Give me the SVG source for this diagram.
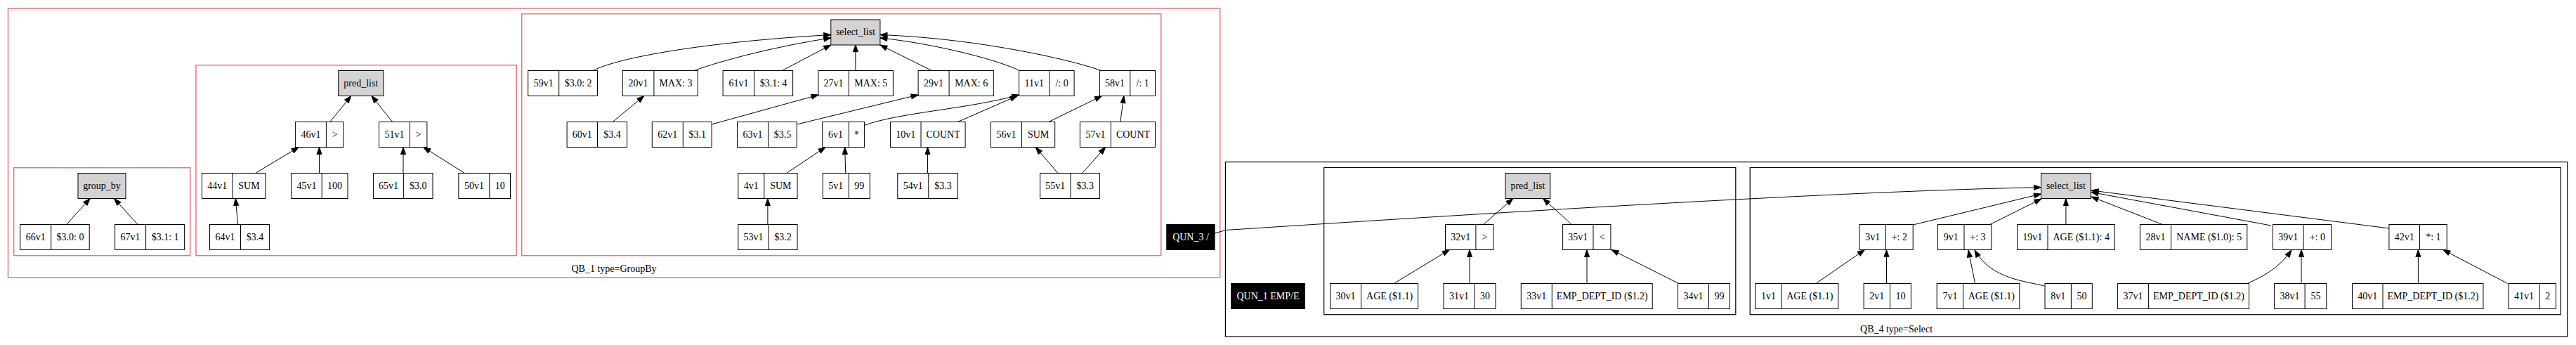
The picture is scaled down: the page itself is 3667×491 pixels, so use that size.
<svg xmlns="http://www.w3.org/2000/svg" width="3667" height="491" viewBox="0 0 3667 491">
<style>
text{font-family:"Liberation Serif","Times New Roman",serif;font-size:14px;text-anchor:middle;fill:#000}
.cr{fill:none;stroke:#e2787c;stroke-width:1.5}
.ck{fill:none;stroke:#000;stroke-width:1.2}
.n rect{fill:#fff;stroke:#000;stroke-width:1}
.n line{stroke:#000;stroke-width:1}
.g rect{fill:#d3d3d3;stroke:#000;stroke-width:1}
.q rect{fill:#000;stroke:#000}
.q text{fill:#fff}
.e path{fill:none;stroke:#000;stroke-width:1;marker-end:url(#ah)}
</style>
<defs>
<marker id="ah" markerUnits="userSpaceOnUse" markerWidth="10" markerHeight="7" refX="10" refY="3.5" orient="auto" overflow="visible">
<path d="M0,0 L10,3.5 L0,7 Z" fill="#000" stroke="#000" stroke-width="1"/>
</marker>
</defs>
<rect width="3667" height="491" fill="#fff"/>

<g id="clusters">
<rect class="cr" x="11.5" y="12" width="1725.2" height="383"/>
<text x="874" y="387">QB_1 type=GroupBy</text>
<rect class="cr" x="19.6" y="238.7" width="251.1" height="125"/>
<rect class="cr" x="278.9" y="92.7" width="456.3" height="271"/>
<rect class="cr" x="742.7" y="19.7" width="910.1" height="344"/>
<rect class="ck" x="1744.4" y="230.5" width="1910.3" height="248.5"/>
<text x="2699.6" y="472.5">QB_4 type=Select</text>
<rect class="ck" x="1884.7" y="238.5" width="586.1" height="209.2"/>
<rect class="ck" x="2491.2" y="238.5" width="1154" height="209.2"/>
</g>

<g id="edges" class="e">
<path d="M94.7,319.5 L128.2,282.5"/>
<path d="M196.1,319.5 L162.6,282.5"/>
<path d="M469.7,173.5 L499.8,136.5"/>
<path d="M558.7,173.5 L529,136.5"/>
<path d="M363.5,246.5 L425.2,209.5"/>
<path d="M454.5,246.5 L454.5,209.5"/>
<path d="M574,246.5 L574,209.5"/>
<path d="M661.5,246.5 L602.7,209.5"/>
<path d="M338.6,319.5 L335.3,282.5"/>
<path d="M844.1,100.5 C880,82 1000,60 1182.8,49.5"/>
<path d="M988.3,100.5 C1030,85 1110,65 1182.8,54"/>
<path d="M1113.3,100.5 L1182.8,64"/>
<path d="M1217.9,100.5 L1217.9,63.7"/>
<path d="M1326.3,100.5 L1252.9,64"/>
<path d="M1451.3,100.5 C1420,85 1330,62 1252.9,54"/>
<path d="M1567.3,100.5 C1535,88 1400,55 1252.9,49.5"/>
<path d="M872.2,173.5 L916.8,136.5"/>
<path d="M1013.1,177 L1165,135"/>
<path d="M1134.3,177 L1307.1,135"/>
<path d="M1230.6,178.3 C1280,160 1380,155 1450.6,135"/>
<path d="M1363.3,173.5 L1448,136.5"/>
<path d="M1492.7,173.5 L1568.6,136.5"/>
<path d="M1594.8,173.5 L1599.9,136.5"/>
<path d="M1119.6,246.5 L1175.1,209.5"/>
<path d="M1203.8,246.5 L1202.6,209.5"/>
<path d="M1320.5,246.5 L1320.5,209.5"/>
<path d="M1506.1,246.5 L1474.2,209.5"/>
<path d="M1540.6,246.5 L1573.7,209.5"/>
<path d="M1092.9,319.5 L1092.9,282.5"/>
<path d="M2111.7,319.5 L2153.8,282.5"/>
<path d="M2237.4,319.5 L2196.6,282.5"/>
<path d="M1984.2,403.5 L2063.3,355.5"/>
<path d="M2092,403.5 L2092,355.5"/>
<path d="M2259,403.5 L2259,355.5"/>
<path d="M2389.8,403.5 L2294.1,355.5"/>
<path d="M1729,332 L1745,327.5 C2000,311 2600,272 2905.5,266.7"/>
<path d="M2723.2,320 L2905.5,276"/>
<path d="M2832.7,319.5 L2906,283"/>
<path d="M2940.9,319.5 L2940.9,282.5"/>
<path d="M3078.4,319.5 L2977,280"/>
<path d="M3233,321 L2977,273.5"/>
<path d="M3401,325 L2977,271"/>
<path d="M2584.9,403.5 L2654.4,355.5"/>
<path d="M2685.5,403.5 L2685.5,355.5"/>
<path d="M2811.6,403.5 L2802,356"/>
<path d="M2910,407 C2885,400 2835,398 2811,356"/>
<path d="M3200,403 C3225,392 3245,380 3262,356"/>
<path d="M3276,403.5 L3276,355.5"/>
<path d="M3442.4,403.5 L3442.4,355.5"/>
<path d="M3569.6,403.5 L3477.8,355.5"/>
</g>

<!-- QB_1 group_by -->
<g id="group_by_1" class="g"><rect x="111" y="246.5" width="68" height="36"/><text x="145" y="268.7">group_by</text></g>
<g id="n66v1" class="n"><rect x="28.7" y="319.5" width="98.5" height="36"/><line x1="72.7" y1="319.5" x2="72.7" y2="355.5"/><text x="50.7" y="341.7">66v1</text><text x="100" y="341.7">$3.0: 0</text></g>
<g id="n67v1" class="n"><rect x="163.6" y="319.5" width="99" height="36"/><line x1="207.6" y1="319.5" x2="207.6" y2="355.5"/><text x="185.6" y="341.7">67v1</text><text x="235.1" y="341.7">$3.1: 1</text></g>

<!-- QB_1 pred_list -->
<g id="pred_list_1" class="g"><rect x="481.7" y="100.5" width="64.1" height="36"/><text x="513.8" y="122.7">pred_list</text></g>
<g id="n46v1" class="n"><rect x="420.4" y="173.5" width="68.4" height="36"/><line x1="464.4" y1="173.5" x2="464.4" y2="209.5"/><text x="442.4" y="195.7">46v1</text><text x="476.6" y="195.7">&gt;</text></g>
<g id="n51v1" class="n"><rect x="539.5" y="173.5" width="68.4" height="36"/><line x1="583.5" y1="173.5" x2="583.5" y2="209.5"/><text x="561.5" y="195.7">51v1</text><text x="595.7" y="195.7">&gt;</text></g>
<g id="n44v1" class="n"><rect x="287.5" y="246.5" width="90.4" height="36"/><line x1="331" y1="246.5" x2="331" y2="282.5"/><text x="309.3" y="268.7">44v1</text><text x="354.5" y="268.7">SUM</text></g>
<g id="n45v1" class="n"><rect x="414.7" y="246.5" width="80.3" height="36"/><line x1="458.2" y1="246.5" x2="458.2" y2="282.5"/><text x="436.5" y="268.7">45v1</text><text x="476.6" y="268.7">100</text></g>
<g id="n65v1" class="n"><rect x="531.4" y="246.5" width="84.6" height="36"/><line x1="574.4" y1="246.5" x2="574.4" y2="282.5"/><text x="552.9" y="268.7">65v1</text><text x="595.2" y="268.7">$3.0</text></g>
<g id="n50v1" class="n"><rect x="652.9" y="246.5" width="73.6" height="36"/><line x1="696.9" y1="246.5" x2="696.9" y2="282.5"/><text x="674.9" y="268.7">50v1</text><text x="711.7" y="268.7">10</text></g>
<g id="n64v1" class="n"><rect x="298.5" y="319.5" width="85.1" height="36"/><line x1="342.5" y1="319.5" x2="342.5" y2="355.5"/><text x="320.5" y="341.7">64v1</text><text x="363" y="341.7">$3.4</text></g>

<!-- QB_1 select_list -->
<g id="select_list_1" class="g"><rect x="1182.8" y="28" width="70.1" height="36"/><text x="1217.9" y="50.2">select_list</text></g>
<g id="n59v1" class="n"><rect x="751.7" y="100.5" width="98.8" height="36"/><line x1="795.7" y1="100.5" x2="795.7" y2="136.5"/><text x="773.7" y="122.7">59v1</text><text x="823.1" y="122.7">$3.0: 2</text></g>
<g id="n20v1" class="n"><rect x="886.2" y="100.5" width="107.2" height="36"/><line x1="930.9" y1="100.5" x2="930.9" y2="136.5"/><text x="908.5" y="122.7">20v1</text><text x="962.1" y="122.7">MAX: 3</text></g>
<g id="n61v1" class="n"><rect x="1029.1" y="100.5" width="99.5" height="36"/><line x1="1073.7" y1="100.5" x2="1073.7" y2="136.5"/><text x="1051.4" y="122.7">61v1</text><text x="1101.1" y="122.7">$3.1: 4</text></g>
<g id="n27v1" class="n"><rect x="1164.9" y="100.5" width="106.5" height="36"/><line x1="1208.3" y1="100.5" x2="1208.3" y2="136.5"/><text x="1186.6" y="122.7">27v1</text><text x="1239.8" y="122.7">MAX: 5</text></g>
<g id="n29v1" class="n"><rect x="1307.1" y="100.5" width="107.2" height="36"/><line x1="1351.1" y1="100.5" x2="1351.1" y2="136.5"/><text x="1329.1" y="122.7">29v1</text><text x="1382.7" y="122.7">MAX: 6</text></g>
<g id="n11v1" class="n"><rect x="1450.6" y="100.5" width="78.5" height="36"/><line x1="1494" y1="100.5" x2="1494" y2="136.5"/><text x="1472.3" y="122.7">11v1</text><text x="1511.6" y="122.7">/: 0</text></g>
<g id="n58v1" class="n"><rect x="1565.4" y="100.5" width="79.1" height="36"/><line x1="1608.8" y1="100.5" x2="1608.8" y2="136.5"/><text x="1587.1" y="122.7">58v1</text><text x="1626.7" y="122.7">/: 1</text></g>
<g id="n60v1" class="n"><rect x="807.1" y="173.5" width="85.5" height="36"/><line x1="850.5" y1="173.5" x2="850.5" y2="209.5"/><text x="828.8" y="195.7">60v1</text><text x="871.6" y="195.7">$3.4</text></g>
<g id="n62v1" class="n"><rect x="928.3" y="173.5" width="84.8" height="36"/><line x1="972.3" y1="173.5" x2="972.3" y2="209.5"/><text x="950.3" y="195.7">62v1</text><text x="992.7" y="195.7">$3.1</text></g>
<g id="n63v1" class="n"><rect x="1049.5" y="173.5" width="84.8" height="36"/><line x1="1093.5" y1="173.5" x2="1093.5" y2="209.5"/><text x="1071.5" y="195.7">63v1</text><text x="1113.9" y="195.7">$3.5</text></g>
<g id="n6v1" class="n"><rect x="1170.7" y="173.5" width="59.9" height="36"/><line x1="1208.3" y1="173.5" x2="1208.3" y2="209.5"/><text x="1189.5" y="195.7">6v1</text><text x="1219.5" y="195.7">*</text></g>
<g id="n10v1" class="n"><rect x="1267.6" y="173.5" width="106.5" height="36"/><line x1="1311" y1="173.5" x2="1311" y2="209.5"/><text x="1289.3" y="195.7">10v1</text><text x="1342.6" y="195.7">COUNT</text></g>
<g id="n56v1" class="n"><rect x="1410.5" y="173.5" width="91.2" height="36"/><line x1="1454.5" y1="173.5" x2="1454.5" y2="209.5"/><text x="1432.5" y="195.7">56v1</text><text x="1478.1" y="195.7">SUM</text></g>
<g id="n57v1" class="n"><rect x="1537.4" y="173.5" width="107.1" height="36"/><line x1="1581.4" y1="173.5" x2="1581.4" y2="209.5"/><text x="1559.4" y="195.7">57v1</text><text x="1613" y="195.7">COUNT</text></g>
<g id="n4v1" class="n"><rect x="1050.8" y="246.5" width="84.2" height="36"/><line x1="1087.8" y1="246.5" x2="1087.8" y2="282.5"/><text x="1069.3" y="268.7">4v1</text><text x="1111.4" y="268.7">SUM</text></g>
<g id="n5v1" class="n"><rect x="1171.3" y="246.5" width="67" height="36"/><line x1="1208.3" y1="246.5" x2="1208.3" y2="282.5"/><text x="1189.8" y="268.7">5v1</text><text x="1223.3" y="268.7">99</text></g>
<g id="n54v1" class="n"><rect x="1277.8" y="246.5" width="85.5" height="36"/><line x1="1321.8" y1="246.5" x2="1321.8" y2="282.5"/><text x="1299.8" y="268.7">54v1</text><text x="1342.6" y="268.7">$3.3</text></g>
<g id="n55v1" class="n"><rect x="1480.6" y="246.5" width="84.8" height="36"/><line x1="1524" y1="246.5" x2="1524" y2="282.5"/><text x="1502.3" y="268.7">55v1</text><text x="1544.7" y="268.7">$3.3</text></g>
<g id="n53v1" class="n"><rect x="1050.8" y="319.5" width="84.2" height="36"/><line x1="1094.1" y1="319.5" x2="1094.1" y2="355.5"/><text x="1072.5" y="341.7">53v1</text><text x="1114.6" y="341.7">$3.2</text></g>

<g id="QUN_3" class="q"><rect x="1660.8" y="319.5" width="68.3" height="36"/><text x="1695" y="341.7">QUN_3 /</text></g>

<!-- QB_4 -->
<g id="QUN_1" class="q"><rect x="1752.7" y="403.5" width="104.6" height="36"/><text x="1805" y="425.7">QUN_1 EMP/E</text></g>
<g id="pred_list_4" class="g"><rect x="2143" y="246.5" width="63.8" height="36"/><text x="2174.9" y="268.7">pred_list</text></g>
<g id="n32v1" class="n"><rect x="2057.5" y="319.5" width="68.3" height="36"/><line x1="2100.9" y1="319.5" x2="2100.9" y2="355.5"/><text x="2079.2" y="341.7">32v1</text><text x="2113.4" y="341.7">&gt;</text></g>
<g id="n35v1" class="n"><rect x="2224.6" y="319.5" width="68.3" height="36"/><line x1="2268" y1="319.5" x2="2268" y2="355.5"/><text x="2246.3" y="341.7">35v1</text><text x="2280.5" y="341.7">&lt;</text></g>
<g id="n30v1" class="n"><rect x="1893.6" y="403.5" width="125" height="36"/><line x1="1937.6" y1="403.5" x2="1937.6" y2="439.5"/><text x="1915.6" y="425.7">30v1</text><text x="1978.1" y="425.7">AGE ($1.1)</text></g>
<g id="n31v1" class="n"><rect x="2055" y="403.5" width="74" height="36"/><line x1="2099" y1="403.5" x2="2099" y2="439.5"/><text x="2077" y="425.7">31v1</text><text x="2114" y="425.7">30</text></g>
<g id="n33v1" class="n"><rect x="2165.3" y="403.5" width="186.9" height="36"/><line x1="2209.3" y1="403.5" x2="2209.3" y2="439.5"/><text x="2187.3" y="425.7">33v1</text><text x="2280.8" y="425.7">EMP_DEPT_ID ($1.2)</text></g>
<g id="n34v1" class="n"><rect x="2388.5" y="403.5" width="74" height="36"/><line x1="2432.5" y1="403.5" x2="2432.5" y2="439.5"/><text x="2410.5" y="425.7">34v1</text><text x="2447.5" y="425.7">99</text></g>

<g id="select_list_4" class="g"><rect x="2905.5" y="246.5" width="70.8" height="36"/><text x="2940.9" y="268.7">select_list</text></g>
<g id="n3v1" class="n"><rect x="2647" y="319.5" width="76.2" height="36"/><line x1="2684.4" y1="319.5" x2="2684.4" y2="355.5"/><text x="2665.7" y="341.7">3v1</text><text x="2703.8" y="341.7">+: 2</text></g>
<g id="n9v1" class="n"><rect x="2758.5" y="319.5" width="76.3" height="36"/><line x1="2796" y1="319.5" x2="2796" y2="355.5"/><text x="2777.3" y="341.7">9v1</text><text x="2815.4" y="341.7">+: 3</text></g>
<g id="n19v1" class="n"><rect x="2871.5" y="319.5" width="138.8" height="36"/><line x1="2915" y1="319.5" x2="2915" y2="355.5"/><text x="2893.3" y="341.7">19v1</text><text x="2962.7" y="341.7">AGE ($1.1): 4</text></g>
<g id="n28v1" class="n"><rect x="3046.4" y="319.5" width="152.4" height="36"/><line x1="3090.6" y1="319.5" x2="3090.6" y2="355.5"/><text x="3068.5" y="341.7">28v1</text><text x="3144.7" y="341.7">NAME ($1.0): 5</text></g>
<g id="n39v1" class="n"><rect x="3235.5" y="319.5" width="83.1" height="36"/><line x1="3279.1" y1="319.5" x2="3279.1" y2="355.5"/><text x="3257.3" y="341.7">39v1</text><text x="3298.9" y="341.7">+: 0</text></g>
<g id="n42v1" class="n"><rect x="3400.9" y="319.5" width="82.3" height="36"/><line x1="3444.5" y1="319.5" x2="3444.5" y2="355.5"/><text x="3422.7" y="341.7">42v1</text><text x="3463.9" y="341.7">*: 1</text></g>
<g id="n1v1" class="n"><rect x="2498.9" y="403.5" width="117.9" height="36"/><line x1="2535.8" y1="403.5" x2="2535.8" y2="439.5"/><text x="2517.4" y="425.7">1v1</text><text x="2576.3" y="425.7">AGE ($1.1)</text></g>
<g id="n2v1" class="n"><rect x="2653.1" y="403.5" width="67.3" height="36"/><line x1="2690.5" y1="403.5" x2="2690.5" y2="439.5"/><text x="2671.8" y="425.7">2v1</text><text x="2705.5" y="425.7">10</text></g>
<g id="n7v1" class="n"><rect x="2757.2" y="403.5" width="117.7" height="36"/><line x1="2794.6" y1="403.5" x2="2794.6" y2="439.5"/><text x="2775.9" y="425.7">7v1</text><text x="2834.8" y="425.7">AGE ($1.1)</text></g>
<g id="n8v1" class="n"><rect x="2911" y="403.5" width="67.3" height="36"/><line x1="2948.4" y1="403.5" x2="2948.4" y2="439.5"/><text x="2929.7" y="425.7">8v1</text><text x="2963.4" y="425.7">50</text></g>
<g id="n37v1" class="n"><rect x="3014.4" y="403.5" width="187.1" height="36"/><line x1="3058.6" y1="403.5" x2="3058.6" y2="439.5"/><text x="3036.5" y="425.7">37v1</text><text x="3130" y="425.7">EMP_DEPT_ID ($1.2)</text></g>
<g id="n38v1" class="n"><rect x="3237.6" y="403.5" width="74.2" height="36"/><line x1="3281.1" y1="403.5" x2="3281.1" y2="439.5"/><text x="3259.4" y="425.7">38v1</text><text x="3296.5" y="425.7">55</text></g>
<g id="n40v1" class="n"><rect x="3348.5" y="403.5" width="186.4" height="36"/><line x1="3392" y1="403.5" x2="3392" y2="439.5"/><text x="3370.3" y="425.7">40v1</text><text x="3463.5" y="425.7">EMP_DEPT_ID ($1.2)</text></g>
<g id="n41v1" class="n"><rect x="3571" y="403.5" width="67.4" height="36"/><line x1="3615.2" y1="403.5" x2="3615.2" y2="439.5"/><text x="3593.1" y="425.7">41v1</text><text x="3626.8" y="425.7">2</text></g>
</svg>
